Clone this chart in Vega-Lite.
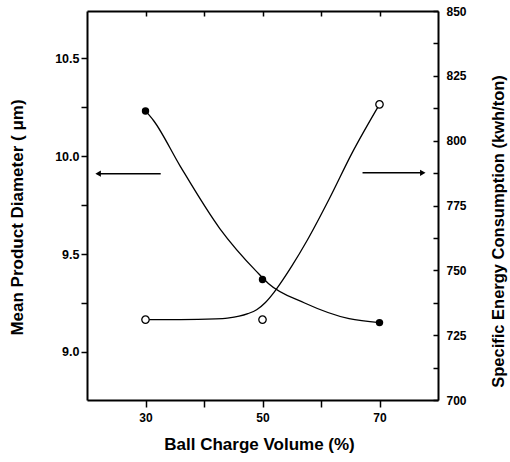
{
  "$schema": "https://vega.github.io/schema/vega-lite/v6.json",
  "width": 351,
  "height": 389,
  "autosize": {"type": "none"},
  "padding": {"left": 87, "top": 11, "right": 72, "bottom": 62},
  "background": "white",
  "config": {
    "view": {"stroke": null},
    "font": "Liberation Sans",
    "axis": {
      "grid": false,
      "domainColor": "black",
      "domainWidth": 2,
      "tickColor": "black",
      "tickWidth": 1.5,
      "labelFont": "Liberation Sans",
      "labelFontWeight": "bold",
      "labelFontSize": 12,
      "labelColor": "black",
      "titleFont": "Liberation Sans",
      "titleFontWeight": "bold",
      "titleFontSize": 17,
      "titleColor": "black"
    }
  },
  "datasets": {
    "diameter": [
      {"volume": 30, "diameter": 10.23},
      {"volume": 50, "diameter": 9.37},
      {"volume": 70, "diameter": 9.15}
    ],
    "diameterCurve": [
      {"volume": 30, "diameter": 10.23},
      {"volume": 31.4, "diameter": 10.18},
      {"volume": 35.9, "diameter": 9.95},
      {"volume": 42.7, "diameter": 9.63},
      {"volume": 49, "diameter": 9.41},
      {"volume": 51, "diameter": 9.35},
      {"volume": 57.2, "diameter": 9.25},
      {"volume": 64.8, "diameter": 9.17},
      {"volume": 70, "diameter": 9.15}
    ],
    "energy": [
      {"volume": 30, "energy": 731},
      {"volume": 50, "energy": 731},
      {"volume": 70, "energy": 814}
    ],
    "energyCurve": [
      {"volume": 30, "energy": 731},
      {"volume": 36, "energy": 731},
      {"volume": 42, "energy": 731.3},
      {"volume": 44, "energy": 731.6},
      {"volume": 46, "energy": 732.3},
      {"volume": 47.5, "energy": 733.3},
      {"volume": 49, "energy": 734.8},
      {"volume": 50.5, "energy": 737.6},
      {"volume": 52, "energy": 741.6},
      {"volume": 53.5, "energy": 746.4},
      {"volume": 55, "energy": 751.6},
      {"volume": 57.6, "energy": 761.4},
      {"volume": 61.4, "energy": 777.5},
      {"volume": 65.3, "energy": 795.2},
      {"volume": 70, "energy": 814}
    ],
    "arrowLeft": [{"volume": 21.9, "volume2": 32.6, "diameter": 9.91}],
    "arrowRight": [{"volume": 77.4, "volume2": 67.1, "energy": 787.6}]
  },
  "layer": [
    {
      "encoding": {
        "x": {
          "field": "volume",
          "type": "quantitative",
          "scale": {"domain": [20, 80], "nice": false, "zero": false},
          "axis": {
            "orient": "bottom",
            "title": "Ball  Charge  Volume (%)",
            "values": [30, 40, 50, 60, 70],
            "labelExpr": "datum.value % 20 == 10 ? datum.label : ''",
            "tickSize": 7,
            "labelPadding": 5,
            "titleX": 172,
            "titleY": 44,
            "titleBaseline": "middle",
            "titleAlign": "center"
          }
        },
        "y": {
          "field": "diameter",
          "type": "quantitative",
          "scale": {"domain": [8.755, 10.74], "nice": false, "zero": false},
          "axis": {
            "orient": "left",
            "title": "Mean Product Diameter ( μm)",
            "values": [9, 9.25, 9.5, 9.75, 10, 10.25, 10.5],
            "labelExpr": "datum.value % 0.5 == 0 ? format(datum.value, '.1f') : ''",
            "labelFontSize": 12.5,
            "tickSize": 6,
            "labelPadding": 2,
            "titleAngle": -90,
            "titleX": -70,
            "titleY": 206,
            "titleBaseline": "middle",
            "titleAlign": "center"
          }
        }
      },
      "layer": [
        {
          "data": {"name": "diameterCurve"},
          "mark": {"type": "line", "color": "black", "strokeWidth": 1.3, "interpolate": "monotone"}
        },
        {
          "data": {"name": "diameter"},
          "mark": {"type": "point", "shape": "circle", "filled": true, "color": "black", "opacity": 1, "size": 55}
        },
        {
          "data": {"name": "arrowLeft"},
          "mark": {"type": "rule", "color": "black", "strokeWidth": 1.5},
          "encoding": {"x2": {"field": "volume2"}}
        },
        {
          "data": {"name": "arrowLeft"},
          "mark": {"type": "point", "shape": "triangle-left", "filled": true, "color": "black", "opacity": 1, "size": 40}
        }
      ]
    },
    {
      "encoding": {
        "x": {
          "field": "volume",
          "type": "quantitative",
          "scale": {"domain": [20, 80], "nice": false, "zero": false},
          "axis": {
            "orient": "top",
            "title": null,
            "values": [30, 40, 50, 60, 70],
            "labels": false,
            "tickSize": -5
          }
        },
        "y": {
          "field": "energy",
          "type": "quantitative",
          "scale": {"domain": [700, 850], "nice": false, "zero": false},
          "axis": {
            "orient": "right",
            "title": "Specific Energy Consumption (kwh/ton)",
            "values": [700, 712.5, 725, 737.5, 750, 762.5, 775, 787.5, 800, 812.5, 825, 837.5, 850],
            "labelExpr": "datum.value % 25 == 0 ? format(datum.value, 'd') : ''",
            "tickSize": -5,
            "labelPadding": 13,
            "titleFontSize": 16.5,
            "titleAngle": -90,
            "titleX": 60,
            "titleY": 220,
            "titleBaseline": "middle",
            "titleAlign": "center"
          }
        }
      },
      "layer": [
        {
          "data": {"name": "energyCurve"},
          "mark": {"type": "line", "color": "black", "strokeWidth": 1.3, "interpolate": "monotone"}
        },
        {
          "data": {"name": "energy"},
          "mark": {"type": "point", "shape": "circle", "fill": "white", "stroke": "black", "strokeWidth": 1.3, "opacity": 1, "size": 55}
        },
        {
          "data": {"name": "arrowRight"},
          "mark": {"type": "rule", "color": "black", "strokeWidth": 1.5},
          "encoding": {"x2": {"field": "volume2"}}
        },
        {
          "data": {"name": "arrowRight"},
          "mark": {"type": "point", "shape": "triangle-right", "filled": true, "color": "black", "opacity": 1, "size": 40}
        }
      ]
    }
  ],
  "resolve": {"scale": {"x": "independent", "y": "independent"}}
}
